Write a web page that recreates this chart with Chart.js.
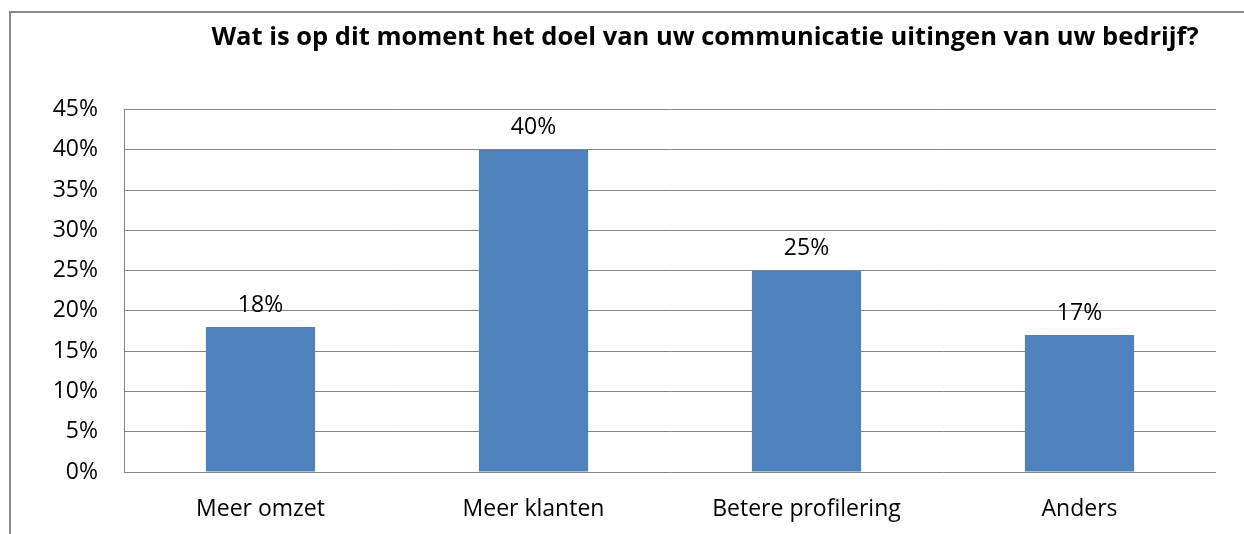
<!DOCTYPE html>
<html>
<head>
<meta charset="utf-8">
<script src="https://cdn.jsdelivr.net/npm/chart.js@4/dist/chart.umd.min.js"></script>
<style>
  html, body { margin: 0; padding: 0; background: #fff; overflow: hidden; width: 1244px; height: 534px; }
  #frame {
    position: absolute; left: 9px; top: 11px;
    width: 1392px; height: 534px;
    box-sizing: border-box; border: 2px solid #8a8a8a;
  }
</style>
</head>
<body>
<div id="frame"><canvas id="doelChart"></canvas></div>
<script>
// data
const categories = ["Meer omzet", "Meer klanten", "Betere profilering", "Anders"];
const percentages = [18, 40, 25, 17];
const yTicksMax = 45;
const yTickStep = 5;
const titleText = "Wat is op dit moment het doel van uw communicatie uitingen van uw bedrijf?";

const fontFamily = "'Open Sans', 'DejaVu Sans', sans-serif";
const gridGray = "#868686";

// labels above bars
const barLabels = {
  id: "barLabels",
  afterDatasetsDraw(chart) {
    const ctx = chart.ctx;
    const meta = chart.getDatasetMeta(0);
    ctx.save();
    ctx.font = "23px " + fontFamily;
    ctx.fillStyle = "#000";
    ctx.textAlign = "center";
    ctx.textBaseline = "middle";
    meta.data.forEach((bar, i) => {
      ctx.fillText(percentages[i] + "%", bar.x, bar.y - 22);
    });
    ctx.restore();
  },
};

const ctx = document.getElementById("doelChart").getContext("2d");

new Chart(ctx, {
  type: "bar",
  data: {
    labels: categories,
    datasets: [
      {
        data: percentages,
        backgroundColor: "#4F81BD",
        borderWidth: 0,
        barPercentage: 1,
        categoryPercentage: 0.4,
      },
    ],
  },
  options: {
    responsive: true,
    maintainAspectRatio: false,
    animation: false,
    layout: { padding: 0 },
    plugins: {
      legend: { display: false },
      tooltip: { enabled: false },
      title: {
        display: true,
        text: titleText,
        color: "#000",
        font: { family: fontFamily, size: 25.5, weight: "bold", lineHeight: 1.2 },
        padding: { top: 9, bottom: 57 },
      },
    },
    scales: {
      x: {
        grid: { display: false, drawTicks: false },
        border: { display: false },
        ticks: {
          color: "#000",
          padding: 24,
          font: { family: fontFamily, size: 23 },
        },
        afterFit(scale) {
          scale.height = 71;
        },
      },
      y: {
        min: 0,
        max: yTicksMax,
        grid: { color: gridGray, lineWidth: 1, drawTicks: false },
        border: { display: true, color: gridGray, width: 1 },
        ticks: {
          stepSize: yTickStep,
          color: "#000",
          padding: 26,
          font: { family: fontFamily, size: 23 },
          callback: (v) => v + "%",
        },
        afterFit(scale) {
          scale.width = 113;
        },
      },
      // empty right axis, only keeps the plot narrower than the frame
      yRight: {
        type: "linear",
        position: "right",
        grid: { display: false, drawTicks: false },
        border: { display: false },
        ticks: { display: false },
        afterFit(scale) {
          scale.width = 183;
        },
      },
    },
  },
  plugins: [barLabels],
});
</script>
</body>
</html>
